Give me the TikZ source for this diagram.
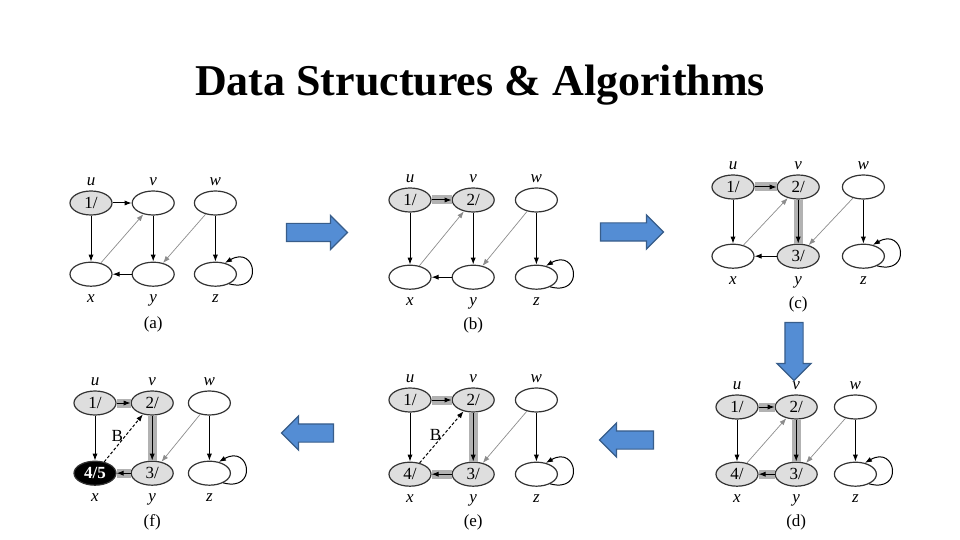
\documentclass[tikz,border=0pt]{standalone}
\usepackage{fontspec}
\setmainfont{Liberation Serif}
\usepackage{xcolor}
\usepackage{tikz}
\usetikzlibrary{arrows.meta, shapes.geometric, shapes.arrows, positioning}

\definecolor{slideblue}{RGB}{84,141,212}
\definecolor{slideline}{RGB}{56,93,138}

\begin{document}
\begin{tikzpicture}[
  x=0.5pt, y=-0.5pt,
  vtx/.style   = {ellipse, draw=black!80, line width=0.6pt, minimum width=21pt,
                  minimum height=12pt, inner sep=0pt,
                  font=\fontsize{8.5}{9}\selectfont},
  seen/.style  = {vtx, fill=black!13},
  fin/.style   = {vtx, fill=black, text=white,
                  font=\fontsize{8.5}{9}\selectfont\bfseries},
  every label/.style = {font=\fontsize{8.5}{9}\selectfont\itshape, inner sep=1pt},
  tag above/.style = {label={[label distance=1pt]above:#1}},
  tag below/.style = {label={[label distance=2.5pt]below:#1}},
  edge/.style  = {-{Latex[length=3.5pt, width=2.6pt]}, line width=0.5pt},
  cross/.style = {edge, draw=black!45, line width=0.35pt},
  tree/.style  = {edge, preaction={draw=black!30, line width=4.5pt, -}},
  back/.style  = {edge, dash pattern=on 1.5pt off 1pt},
  selfloop/.style = {edge, out=-15, in=30, min distance=18pt},
  caption/.style = {font=\fontsize{8.5}{9}\selectfont, inner sep=1pt},
  bigarrow/.style = {single arrow, draw=slideline, fill=slideblue, line width=0.6pt,
                     minimum width=16.5pt, single arrow head extend=4pt,
                     inner sep=4.25pt}
]
\useasboundingbox (0,0) rectangle (960,540);

\node[font=\fontsize{22}{26}\selectfont\bfseries, anchor=base] (title)
  at (480,96) {Data Structures \& Algorithms};

% (a)
\begin{scope}[node distance=23pt and 9.5pt]
\node[seen, tag above=u] (au) at (91,203) {1/};
\node[vtx, right=of au, tag above=v] (av) {};
\node[vtx, right=of av, tag above=w] (aw) {};
\node[vtx, below=of au, tag below=x] (ax) {};
\node[vtx, below=of av, tag below=y] (ay) {};
\node[vtx, below=of aw, tag below=z] (az) {};
\node[caption, below=14pt of ay] (acap) {(a)};
\draw[edge]  (au) -- (av);
\draw[edge]  (au) -- (ax);
\draw[cross] (ax) -- (av);
\draw[edge]  (av) -- (ay);
\draw[edge]  (ay) -- (ax);
\draw[cross] (aw) -- (ay);
\draw[edge]  (aw) -- (az);
\draw[selfloop] (az.-35) to (az.50);
\end{scope}

% (b)
\begin{scope}[node distance=26pt and 10pt]
\node[seen, tag above=u] (bu) at (410,200) {1/};
\node[seen, right=of bu, tag above=v] (bv) {2/};
\node[vtx, right=of bv, tag above=w] (bw) {};
\node[vtx, below=of bu, tag below=x] (bx) {};
\node[vtx, below=of bv, tag below=y] (by) {};
\node[vtx, below=of bw, tag below=z] (bz) {};
\node[caption, below=13pt of by] (bcap) {(b)};
\draw[tree]  (bu) -- (bv);
\draw[edge]  (bu) -- (bx);
\draw[cross] (bx) -- (bv);
\draw[edge]  (bv) -- (by);
\draw[edge]  (by) -- (bx);
\draw[cross] (bw) -- (by);
\draw[edge]  (bw) -- (bz);
\draw[selfloop] (bz.-35) to (bz.50);
\end{scope}

% (c)
\begin{scope}[node distance=22pt and 11pt]
\node[seen, tag above=u] (cu) at (733,187) {1/};
\node[seen, right=of cu, tag above=v] (cv) {2/};
\node[vtx, right=of cv, tag above=w] (cw) {};
\node[vtx, below=of cu, tag below=x] (cx) {};
\node[seen, below=of cv, tag below=y] (cy) {3/};
\node[vtx, below=of cw, tag below=z] (cz) {};
\node[caption, below=13pt of cy] (ccap) {(c)};
\draw[tree]  (cu) -- (cv);
\draw[edge]  (cu) -- (cx);
\draw[cross] (cx) -- (cv);
\draw[tree]  (cv) -- (cy);
\draw[edge]  (cy) -- (cx);
\draw[cross] (cw) -- (cy);
\draw[edge]  (cw) -- (cz);
\draw[selfloop] (cz.-35) to (cz.50);
\end{scope}

% (d)
\begin{scope}[node distance=21pt and 8pt]
\node[seen, tag above=u] (du) at (737,407) {1/};
\node[seen, right=of du, tag above=v] (dv) {2/};
\node[vtx, right=of dv, tag above=w] (dw) {};
\node[seen, below=of du, tag below=x] (dx) {4/};
\node[seen, below=of dv, tag below=y] (dy) {3/};
\node[vtx, below=of dw, tag below=z] (dz) {};
\node[caption, below=13pt of dy] (dcap) {(d)};
\draw[tree]  (du) -- (dv);
\draw[edge]  (du) -- (dx);
\draw[cross] (dx) -- (dv);
\draw[tree]  (dv) -- (dy);
\draw[tree]  (dy) -- (dx);
\draw[cross] (dw) -- (dy);
\draw[edge]  (dw) -- (dz);
\draw[selfloop] (dz.-35) to (dz.50);
\end{scope}

% (e)
\begin{scope}[node distance=24.5pt and 10pt]
\node[seen, tag above=u] (eu) at (410,400) {1/};
\node[seen, right=of eu, tag above=v] (ev) {2/};
\node[vtx, right=of ev, tag above=w] (ew) {};
\node[seen, below=of eu, tag below=x] (ex) {4/};
\node[seen, below=of ev, tag below=y] (ey) {3/};
\node[vtx, below=of ew, tag below=z] (ez) {};
\node[caption, below=13pt of ey] (ecap) {(e)};
\draw[tree]  (eu) -- (ev);
\draw[edge]  (eu) -- (ex);
\draw[back]  (ex) -- node[caption, left, pos=0.55] {B} (ev);
\draw[tree]  (ev) -- (ey);
\draw[tree]  (ey) -- (ex);
\draw[cross] (ew) -- (ey);
\draw[edge]  (ew) -- (ez);
\draw[selfloop] (ez.-35) to (ez.50);
\end{scope}

% (f)
\begin{scope}[node distance=22.5pt and 7pt]
\node[seen, tag above=u] (fu) at (95,403) {1/};
\node[seen, right=of fu, tag above=v] (fv) {2/};
\node[vtx, right=of fv, tag above=w] (fw) {};
\node[fin, below=of fu, tag below=x] (fx) {4/5};
\node[seen, below=of fv, tag below=y] (fy) {3/};
\node[vtx, below=of fw, tag below=z] (fz) {};
\node[caption, below=13pt of fy] (fcap) {(f)};
\draw[tree]  (fu) -- (fv);
\draw[edge]  (fu) -- (fx);
\draw[back]  (fx) -- node[caption, left, pos=0.55] {B} (fv);
\draw[tree]  (fv) -- (fy);
\draw[tree]  (fy) -- (fx);
\draw[cross] (fw) -- (fy);
\draw[edge]  (fw) -- (fz);
\draw[selfloop] (fz.-35) to (fz.50);
\end{scope}

% steps between the panels
\node[bigarrow, minimum height=30.5pt] (ab) at (312.5,232.5) {};
\node[bigarrow, minimum height=31.5pt] (bc) at (627.5,232) {};
\node[bigarrow, minimum height=29pt, rotate=-90] (cd) at (794,347) {};
\node[bigarrow, minimum height=27pt, rotate=180] (de) at (631,440) {};
\node[bigarrow, minimum height=26pt, rotate=180] (ef) at (312,433) {};

\end{tikzpicture}
\end{document}
